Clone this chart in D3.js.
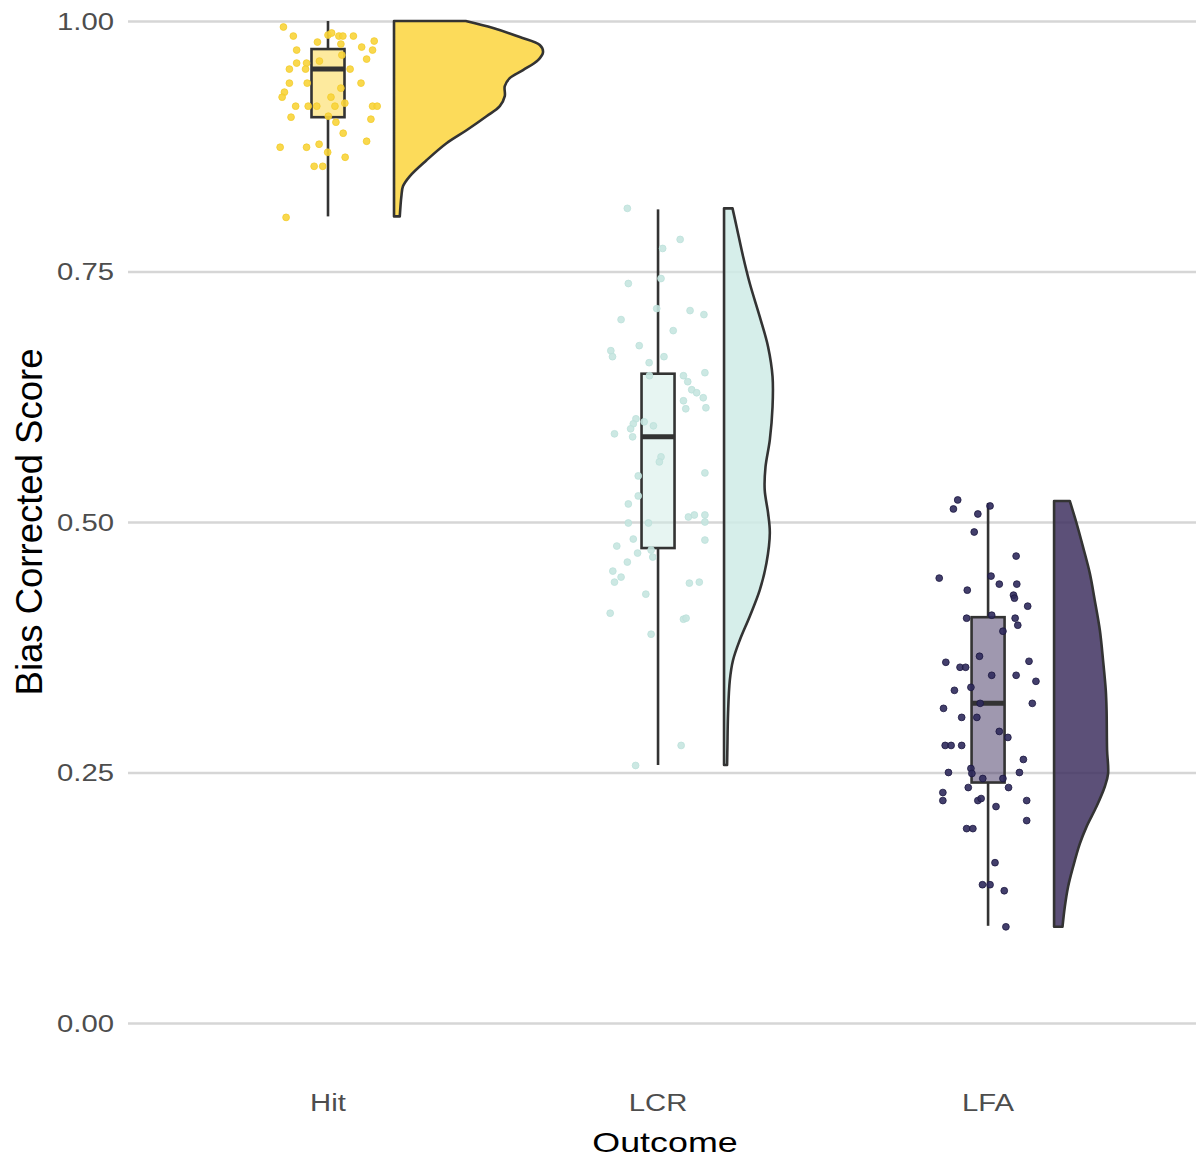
<!DOCTYPE html>
<html>
<head>
<meta charset="utf-8">
<script src="https://cdn.jsdelivr.net/npm/d3@7"></script>
<style>
  html, body { margin: 0; padding: 0; background: #ffffff; }
  svg { display: block; }
</style>
</head>
<body>
<svg id="chart" width="1196" height="1158"></svg>
<script>
// ---------------- DATA ----------------
const categories = ["Hit", "LCR", "LFA"];
const yTicks = [0, 0.25, 0.5, 0.75, 1.0];
const yTickLabels = ["0.00", "0.25", "0.50", "0.75", "1.00"];
const xTitle = "Outcome";
const yTitle = "Bias Corrected Score";

// box stats: [lower whisker, Q1, median, Q3, upper whisker]
const hitBox = [0.805, 0.904, 0.952, 0.972, 1.000];
const lcrBox = [0.2575, 0.474, 0.585, 0.648, 0.812];
const lfaBox = [0.097, 0.240, 0.319, 0.405, 0.519];

// half-violin density profiles: [score, density]
const hitDensity = [[1.000,4.48],[0.993,6.19],[0.984,7.86],[0.976,9.11],[0.969,9.31],[0.961,9.0],[0.951,8.06],[0.943,7.23],[0.935,6.92],[0.925,6.92],[0.915,6.61],[0.905,5.78],[0.891,4.53],[0.878,3.28],[0.861,2.03],[0.845,0.98],[0.835,0.56],[0.825,0.46],[0.805,0.36]];
const lcrDensity = [[0.813,0.53],[0.795,0.78],[0.765,1.19],[0.738,1.61],[0.705,2.23],[0.675,2.75],[0.645,3.03],[0.615,3.03],[0.582,2.86],[0.555,2.59],[0.532,2.54],[0.509,2.75],[0.489,2.86],[0.459,2.65],[0.432,2.23],[0.406,1.61],[0.382,0.98],[0.362,0.56],[0.342,0.36],[0.309,0.25],[0.276,0.21],[0.2575,0.19]];
const lfaDensity = [[0.521,0.98],[0.499,1.40],[0.475,1.81],[0.449,2.23],[0.422,2.54],[0.392,2.86],[0.362,3.06],[0.332,3.23],[0.312,3.28],[0.2725,3.31],[0.249,3.375],[0.236,3.17],[0.216,2.65],[0.196,2.03],[0.179,1.61],[0.156,1.19],[0.136,0.875],[0.116,0.67],[0.096,0.525]];

// raw points: [score, jitter offset in category units]
const hitPoints = [[0.994,-0.135],[0.985,-0.105],[0.986,0.000],[0.988,0.011],[0.985,0.033],[0.985,0.045],[0.985,0.077],[0.980,0.140],[0.979,-0.032],[0.977,0.039],[0.974,0.102],[0.971,0.135],[0.971,-0.095],[0.966,0.042],[0.962,0.117],[0.960,-0.026],[0.958,-0.095],[0.958,-0.065],[0.952,-0.068],[0.952,-0.117],[0.952,0.067],[0.938,-0.063],[0.938,-0.117],[0.938,0.100],[0.933,0.039],[0.929,-0.132],[0.924,-0.139],[0.924,0.009],[0.918,0.051],[0.915,-0.098],[0.915,-0.060],[0.915,-0.034],[0.915,0.021],[0.915,0.135],[0.915,0.149],[0.904,-0.112],[0.905,0.001],[0.902,0.130],[0.899,0.024],[0.888,0.046],[0.880,0.117],[0.877,-0.027],[0.874,-0.065],[0.874,-0.145],[0.869,-0.001],[0.864,0.052],[0.855,-0.042],[0.855,-0.016],[0.804,-0.127]];
const lcrPoints = [[0.813,-0.093],[0.782,0.067],[0.773,0.014],[0.743,0.009],[0.738,-0.090],[0.713,-0.004],[0.711,0.097],[0.707,0.139],[0.702,-0.112],[0.691,0.046],[0.676,-0.057],[0.671,-0.143],[0.665,-0.138],[0.665,0.018],[0.659,-0.027],[0.646,-0.026],[0.646,0.077],[0.640,0.090],[0.649,0.142],[0.632,0.102],[0.629,0.117],[0.624,0.137],[0.621,0.077],[0.613,0.084],[0.614,0.145],[0.603,-0.067],[0.600,-0.042],[0.596,-0.014],[0.598,-0.075],[0.593,-0.083],[0.588,-0.132],[0.585,-0.077],[0.565,0.009],[0.560,0.004],[0.546,-0.060],[0.549,0.142],[0.526,-0.060],[0.518,-0.090],[0.505,0.092],[0.507,0.110],[0.507,0.142],[0.500,0.142],[0.499,-0.090],[0.499,-0.029],[0.483,-0.075],[0.482,0.142],[0.476,-0.125],[0.472,-0.021],[0.469,-0.062],[0.465,-0.016],[0.460,-0.093],[0.451,-0.137],[0.445,-0.112],[0.440,-0.132],[0.439,0.095],[0.440,0.125],[0.428,-0.037],[0.409,-0.145],[0.403,0.077],[0.404,0.085],[0.388,-0.021],[0.277,0.070],[0.257,-0.068]];
const lfaPoints = [[0.522,-0.092],[0.513,-0.105],[0.508,-0.031],[0.516,0.006],[0.490,-0.042],[0.466,0.085],[0.444,-0.148],[0.446,0.009],[0.438,0.034],[0.438,0.087],[0.432,-0.063],[0.427,0.077],[0.424,0.080],[0.416,0.120],[0.404,-0.065],[0.407,0.011],[0.404,0.082],[0.397,0.090],[0.391,0.045],[0.360,-0.128],[0.366,-0.026],[0.355,-0.085],[0.355,-0.068],[0.361,0.124],[0.347,0.011],[0.347,0.085],[0.341,0.145],[0.332,-0.102],[0.335,-0.052],[0.319,0.134],[0.314,-0.135],[0.319,-0.024],[0.305,-0.080],[0.305,-0.034],[0.291,0.034],[0.285,0.060],[0.277,-0.130],[0.277,-0.112],[0.277,-0.080],[0.263,0.107],[0.250,-0.120],[0.254,-0.052],[0.249,-0.049],[0.244,-0.016],[0.244,0.045],[0.250,0.095],[0.235,-0.060],[0.235,0.062],[0.230,-0.137],[0.222,-0.137],[0.222,-0.031],[0.224,-0.021],[0.216,0.024],[0.222,0.117],[0.202,0.117],[0.194,-0.065],[0.194,-0.046],[0.160,0.021],[0.138,-0.017],[0.138,0.006],[0.132,0.049],[0.096,0.054]];

// ---------------- STYLE / LAYOUT ----------------
const panel = { left: 128, right: 1196, top: 21, bottom: 1023 };
const colors = {
  Hit: { fill: "#FBD53D", point: "#F8D43A", pointStroke: "#F3CC2C" },
  LCR: { fill: "#CFEBE6", point: "#C6E6E0", pointStroke: "#BCE1DA" },
  LFA: { fill: "#3F3160", point: "#2F2A5C", pointStroke: "#1C1840" }
};
const ink = "#333333";

const groups = [
  { name: "Hit", box: hitBox, density: hitDensity, points: hitPoints },
  { name: "LCR", box: lcrBox, density: lcrDensity, points: lcrPoints },
  { name: "LFA", box: lfaBox, density: lfaDensity, points: lfaPoints }
];

const svg = d3.select("#chart");

const y = d3.scaleLinear().domain([0, 1]).range([panel.bottom, panel.top]);
const x = d3.scaleLinear().domain([0.394, 3.63]).range([panel.left, panel.right]);
const xPos = name => categories.indexOf(name) + 1;

const maxDensity = d3.max(groups, g => d3.max(g.density, d => d[1]));
const violinWidth = d3.scaleLinear().domain([0, maxDensity]).range([0, 0.4515]);
const violinNudge = 0.2;
const boxHalf = 0.05;
const lw = 2.6;

// grid lines
const yAxis = d3.axisLeft(y).tickValues(yTicks).tickSize(-(panel.right - panel.left)).tickFormat("");
const gAxis = svg.append("g").attr("transform", `translate(${panel.left},0)`).call(yAxis);
gAxis.select(".domain").remove();
gAxis.selectAll(".tick line").attr("stroke", "#D6D6D6").attr("stroke-width", 2.4);

// y tick labels
svg.append("g").selectAll("text").data(yTicks).join("text")
  .attr("transform", d => `translate(114,${y(d)}) scale(1.22,1)`)
  .attr("dy", "0.36em")
  .attr("text-anchor", "end")
  .attr("font-family", "Liberation Sans, Arial, sans-serif")
  .attr("font-size", 24)
  .attr("fill", "#4D4D4D")
  .text((d, i) => yTickLabels[i]);

// x tick labels
svg.append("g").selectAll("text").data(categories).join("text")
  .attr("transform", d => `translate(${x(xPos(d))},1111) scale(1.22,1)`)
  .attr("text-anchor", "middle")
  .attr("font-family", "Liberation Sans, Arial, sans-serif")
  .attr("font-size", 24)
  .attr("fill", "#4D4D4D")
  .text(d => d);

// axis titles
svg.append("text")
  .attr("transform", `translate(665,1152) scale(1.28,1)`)
  .attr("text-anchor", "middle")
  .attr("font-family", "Liberation Sans, Arial, sans-serif")
  .attr("font-size", 28)
  .attr("fill", "#000000")
  .text(xTitle);

svg.append("text")
  .attr("transform", `translate(42,522) rotate(-90)`)
  .attr("text-anchor", "middle")
  .attr("font-family", "Liberation Sans, Arial, sans-serif")
  .attr("font-size", 36.5)
  .attr("fill", "#000000")
  .text(yTitle);

// marks
groups.forEach(g => {
  const cx = xPos(g.name);
  const c = colors[g.name];
  const gg = svg.append("g");

  // half violin
  const x0 = cx + violinNudge;
  const area = d3.area()
    .y(d => y(d[0]))
    .x0(() => x(x0))
    .x1(d => x(x0 + violinWidth(d[1])))
    .curve(d3.curveCatmullRom.alpha(0.5));
  gg.append("path")
    .datum(g.density)
    .attr("d", area)
    .attr("fill", c.fill)
    .attr("fill-opacity", 0.85)
    .attr("stroke", ink)
    .attr("stroke-width", lw)
    .attr("stroke-linejoin", "round");

  // whiskers
  const [lo, q1, med, q3, hi] = g.box;
  gg.append("line")
    .attr("x1", x(cx)).attr("x2", x(cx))
    .attr("y1", y(q3)).attr("y2", y(hi))
    .attr("stroke", ink).attr("stroke-width", lw);
  gg.append("line")
    .attr("x1", x(cx)).attr("x2", x(cx))
    .attr("y1", y(q1)).attr("y2", y(lo))
    .attr("stroke", ink).attr("stroke-width", lw);

  // box
  gg.append("rect")
    .attr("x", x(cx - boxHalf))
    .attr("width", x(cx + boxHalf) - x(cx - boxHalf))
    .attr("y", y(q3))
    .attr("height", y(q1) - y(q3))
    .attr("fill", c.fill)
    .attr("fill-opacity", 0.5)
    .attr("stroke", ink)
    .attr("stroke-width", lw);
  gg.append("line")
    .attr("x1", x(cx - boxHalf)).attr("x2", x(cx + boxHalf))
    .attr("y1", y(med)).attr("y2", y(med))
    .attr("stroke", ink).attr("stroke-width", 5);

  // points
  gg.append("g").selectAll("circle").data(g.points).join("circle")
    .attr("cx", d => x(cx + d[1]))
    .attr("cy", d => y(d[0]))
    .attr("r", 3.4)
    .attr("fill", c.point)
    .attr("fill-opacity", 0.9)
    .attr("stroke", c.pointStroke)
    .attr("stroke-width", 0.8);
});
</script>
</body>
</html>
